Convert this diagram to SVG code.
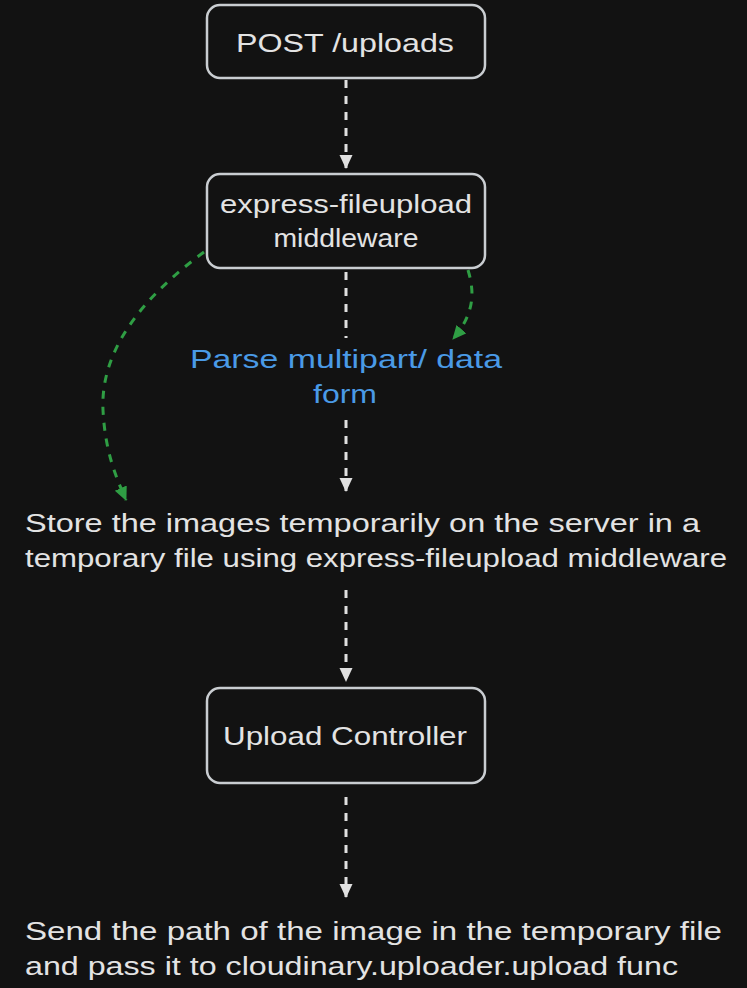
<svg xmlns="http://www.w3.org/2000/svg" width="747" height="988" viewBox="0 0 747 988">
<style>
.box{fill:#121212;stroke:#c9cdd1;stroke-width:2.5}
.t{font-family:"Liberation Sans",Arial,sans-serif;font-size:25px;fill:#e3e3e3}
.c{text-anchor:middle}
.blue{fill:#4a9ae6}
.w{fill:none;stroke:#e0e0e0;stroke-width:3;stroke-dasharray:8 8}
.g{fill:none;stroke:#2f9e44;stroke-width:3;stroke-dasharray:8 8}
</style>
<defs>
<marker id="aw" markerWidth="16" markerHeight="14" refX="13" refY="6.5" orient="auto" markerUnits="userSpaceOnUse">
<path d="M0,0 L14,6.5 L0,13 Z" fill="#e0e0e0"/>
</marker>
<marker id="ag" markerWidth="16" markerHeight="14" refX="13" refY="6.5" orient="auto" markerUnits="userSpaceOnUse">
<path d="M0,0 L14,6.5 L0,13 Z" fill="#2f9e44"/>
</marker>
</defs>
<rect width="747" height="988" fill="#121212"/>
<g id="connectors">
<path class="w" d="M346,80 L346,168" marker-end="url(#aw)"/>
<path class="w" d="M346,272 L346,338"/>
<path class="w" d="M346,420 L346,491" marker-end="url(#aw)"/>
<path class="w" d="M346,590 L346,681" marker-end="url(#aw)"/>
<path class="w" d="M346,797 L346,897" marker-end="url(#aw)"/>
<path class="g" d="M204,252 C150,292 100,345 103,410 C105,450 115,475 126,500" marker-end="url(#ag)"/>
<path class="g" d="M468,270 C474,290 476,312 453,339" marker-end="url(#ag)"/>
</g>
<g id="post-uploads">
<rect class="box" x="207" y="5" width="278" height="73" rx="13"/>
<text class="t c" x="345" y="52" textLength="218" lengthAdjust="spacingAndGlyphs">POST /uploads</text>
</g>
<g id="express-fileupload">
<rect class="box" x="207" y="174" width="278" height="94" rx="13"/>
<text class="t c" x="346" y="213" textLength="252" lengthAdjust="spacingAndGlyphs">express-fileupload</text>
<text class="t c" x="346" y="247" textLength="145" lengthAdjust="spacingAndGlyphs">middleware</text>
</g>
<g id="parse-label">
<text class="t c blue" x="346" y="368" textLength="312" lengthAdjust="spacingAndGlyphs">Parse multipart/ data</text>
<text class="t c blue" x="345" y="403" textLength="64" lengthAdjust="spacingAndGlyphs">form</text>
</g>
<g id="store-text">
<text class="t" x="25" y="532" textLength="675" lengthAdjust="spacingAndGlyphs">Store the images temporarily on the server in a</text>
<text class="t" x="25" y="567" textLength="702" lengthAdjust="spacingAndGlyphs">temporary file using express-fileupload middleware</text>
</g>
<g id="upload-controller">
<rect class="box" x="207" y="688" width="278" height="95" rx="13"/>
<text class="t c" x="345" y="745" textLength="244" lengthAdjust="spacingAndGlyphs">Upload Controller</text>
</g>
<g id="send-text">
<text class="t" x="25" y="940" textLength="697" lengthAdjust="spacingAndGlyphs">Send the path of the image in the temporary file</text>
<text class="t" x="25" y="975" textLength="653" lengthAdjust="spacingAndGlyphs">and pass it to cloudinary.uploader.upload func</text>
</g>
</svg>
